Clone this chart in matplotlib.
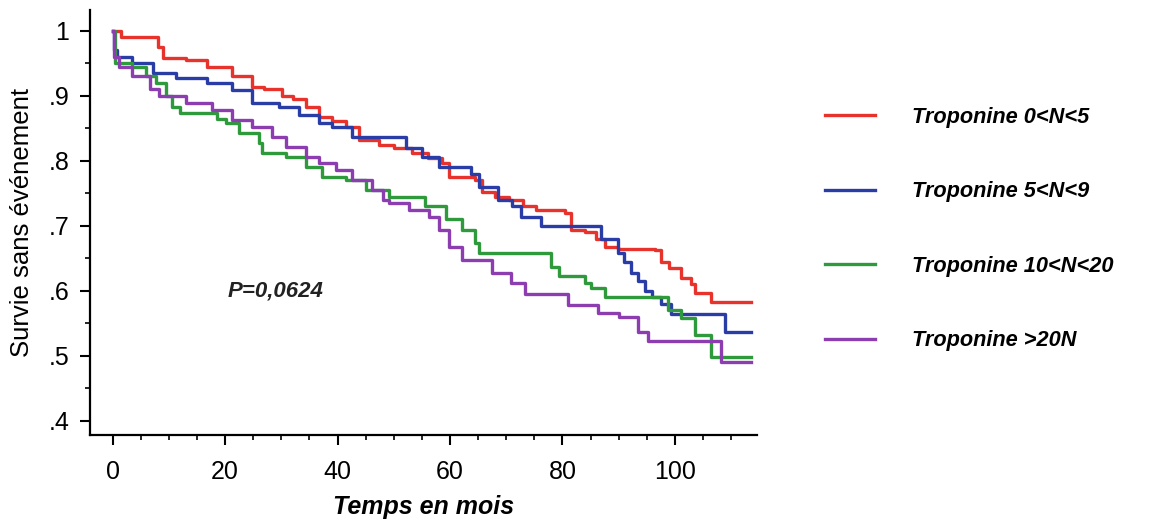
import numpy as np
import matplotlib
matplotlib.use("Agg")
import matplotlib.pyplot as plt
from matplotlib.ticker import MultipleLocator, FixedLocator, FixedFormatter

plt.rcParams["font.family"] = ["Liberation Sans", "DejaVu Sans"]

# Kaplan-Meier step data (months, survival)
t_end = 113.5

red_t = [0, 1.5, 8, 9, 13, 16.7, 21.3, 24.8, 27, 30.1, 32, 34.4, 36.7, 39, 41.5, 43.8,
         47.3, 50, 53.2, 56, 58.5, 59.8, 64.5, 65.6, 68, 70.4, 73, 75.2, 80.5, 81.6, 84,
         86, 87.6, 89.9, 96.5, 97.5, 99, 101, 102.8, 103.5, 106.4]
red_s = [1.0, 0.99, 0.975, 0.958, 0.955, 0.945, 0.93, 0.914, 0.91, 0.90, 0.895, 0.883,
         0.868, 0.862, 0.852, 0.832, 0.825, 0.82, 0.812, 0.805, 0.797, 0.775, 0.77, 0.752,
         0.745, 0.74, 0.73, 0.725, 0.72, 0.694, 0.69, 0.68, 0.668, 0.665, 0.663, 0.645,
         0.635, 0.62, 0.61, 0.597, 0.583]

blue_t = [0, 0.3, 0.7, 3.5, 7.1, 11.3, 16.7, 21.3, 24.8, 29.6, 33.2, 36.7, 39.0, 42.6,
          52.1, 55, 58, 63.8, 65.1, 68.6, 71, 72.7, 76.2, 86.9, 89.9, 91, 92.2, 93.5,
          94.7, 96, 97.5, 99.3, 108.9]
blue_s = [1.0, 0.97, 0.96, 0.95, 0.935, 0.927, 0.92, 0.909, 0.889, 0.883, 0.87, 0.858,
          0.852, 0.837, 0.82, 0.806, 0.79, 0.78, 0.76, 0.74, 0.73, 0.714, 0.70, 0.68,
          0.658, 0.645, 0.628, 0.615, 0.60, 0.59, 0.58, 0.565, 0.537]

green_t = [0, 0.4, 3.5, 6, 7.8, 9.5, 10.6, 11.9, 18.5, 20.2, 22.5, 26.1, 26.6, 30.9,
           34.4, 37.2, 41.5, 45.0, 49.1, 55.5, 59.2, 62.1, 64.5, 65.1, 78.0, 79.3, 84,
           85.1, 87.6, 98.8, 101.1, 103.5, 106.4]
green_s = [1.0, 0.95, 0.945, 0.93, 0.92, 0.90, 0.883, 0.874, 0.865, 0.858, 0.843, 0.828,
           0.812, 0.806, 0.79, 0.775, 0.77, 0.755, 0.745, 0.73, 0.71, 0.694, 0.674,
           0.658, 0.637, 0.622, 0.612, 0.605, 0.59, 0.571, 0.558, 0.532, 0.498]

purple_t = [0, 0.3, 1.2, 3.5, 6.6, 8.3, 13.1, 17.7, 21.3, 24.8, 28.4, 30.9, 34.4, 36.7,
            39.7, 42.6, 46.1, 48, 49.1, 52.7, 56.2, 58, 59.8, 62.1, 67.4, 70.9, 73.4,
            81, 86.3, 90, 93.4, 95.2, 108.2]
purple_s = [1.0, 0.96, 0.945, 0.93, 0.91, 0.90, 0.889, 0.878, 0.863, 0.852, 0.837, 0.822,
            0.806, 0.797, 0.786, 0.77, 0.755, 0.74, 0.735, 0.725, 0.714, 0.694, 0.668,
            0.648, 0.627, 0.612, 0.595, 0.578, 0.566, 0.56, 0.537, 0.522, 0.49]

labels = ["Troponine 0<N<5", "Troponine 5<N<9", "Troponine 10<N<20", "Troponine >20N"]
colors = ["#e8322c", "#2a3da6", "#2f9a3c", "#8c3db0"]


def step_line(ax, t, s, color, label):
    t = list(t) + [t_end]
    s = list(s) + [s[-1]]
    ax.step(t, s, where="post", color=color, lw=2.4, label=label)


fig = plt.figure(figsize=(11.55, 5.28), dpi=100)
ax = fig.add_axes([0.078, 0.176, 0.577, 0.805])

for t, s, c, lab in zip([red_t, blue_t, green_t, purple_t],
                        [red_s, blue_s, green_s, purple_s], colors, labels):
    step_line(ax, t, s, c, lab)

ax.set_xlim(-4, 114.5)
ax.set_ylim(0.378, 1.032)

for side in ["top", "right"]:
    ax.spines[side].set_visible(False)
for side in ["left", "bottom"]:
    ax.spines[side].set_linewidth(1.6)

ax.xaxis.set_major_locator(FixedLocator([0, 20, 40, 60, 80, 100]))
ax.xaxis.set_minor_locator(MultipleLocator(5))
ax.yaxis.set_major_locator(FixedLocator([0.4, 0.5, 0.6, 0.7, 0.8, 0.9, 1.0]))
ax.yaxis.set_major_formatter(FixedFormatter([".4", ".5", ".6", ".7", ".8", ".9", "1"]))
ax.yaxis.set_minor_locator(MultipleLocator(0.05))
ax.tick_params(which="major", length=7, width=1.5, labelsize=18)
ax.tick_params(axis="x", which="major", pad=11)
ax.tick_params(axis="y", which="major", pad=8)
ax.tick_params(which="minor", length=3.5, width=1.2)

ax.set_ylabel("Survie sans événement", fontsize=18.5, labelpad=10)
ax.set_xlabel("Temps en mois", fontsize=18, fontweight="bold", fontstyle="italic",
              labelpad=8)

ax.text(20.5, 0.60, "P=0,0624", fontsize=16, fontweight="bold", fontstyle="italic",
        ha="left", va="center", color="#222222")

fig.legend(loc="upper left", bbox_to_anchor=(825 / 1155, 1 - 107 / 528),
           frameon=False, borderpad=0, borderaxespad=0, handlelength=2.3,
           handletextpad=1.7, labelspacing=2.45,
           prop={"size": 15.7, "weight": "bold", "style": "italic"})

fig.savefig("out.png", dpi=100)
